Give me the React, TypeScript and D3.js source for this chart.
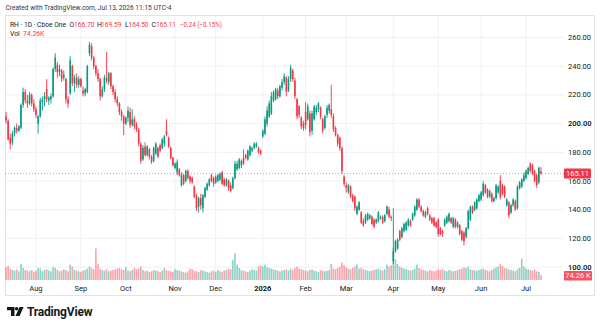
import React from "react";
import * as d3 from "d3";

// [open, high, low, close] per trading day, 2025-07-14 .. 2026-07-13
const ohlc: number[][] = [
  // 0
  [205,208,200,202],[202,203,188,189],[190,193,182,186],[187,195,185,193],[193,198,191,197],
  [197,200,193,195],[195,199,194,198],[197,214,196,213],[213,225,211,222],[222,224,214,216],
  // 10
  [216,220,211,214],[214,222,213,220],[220,221,212,214],[214,217,208,210],[210,212,204,206],
  [200,206,193,205],[205,218,204,216],[215,219,209,217],[217,222,212,219],[224,231,215,217],
  // 20
  [216,219,213,218],[217,221,214,219],[219,239,218,238],[238,249,236,246],[241,243,232,236],
  [236,241,233,238],[237,238,229,231],[232,237,230,234],[231,232,214,217],[217,219,211,214],
  // 30
  [221,247,220,244],[240,241,226,228],[228,234,222,232],[232,235,225,227],[227,233,225,231],
  [231,232,225,226],[223,226,219,221],[221,225,219,224],[222,241,221,240],[249,257,247,255],
  // 40
  [254,256,244,246],[246,247,238,240],[240,241,233,235],[235,238,229,231],[231,232,216,219],
  [219,226,218,224],[224,234,222,232],[232,250,228,230],[229,236,227,235],[235,236,224,226],
  // 50
  [226,227,220,222],[222,224,215,217],[217,219,212,214],[214,215,206,208],[208,210,202,205],
  [205,206,192,200],[200,205,199,204],[204,212,201,209],[208,211,197,199],[199,210,198,203],
  // 60
  [203,205,196,198],[199,201,194,196],[196,197,184,186],[186,187,172,174],[175,185,174,183],
  [184,187,177,178],[178,185,177,184],[182,183,175,177],[177,178,172,173],[174,184,173,183],
  // 70
  [179,187,178,186],[183,184,176,177],[185,186,180,181],[183,190,182,189],[186,192,184,191],
  [195,203,191,192],[190,191,183,184],[183,184,175,176],[176,177,170,171],[169,173,168,172],
  // 80
  [166,175,164,173],[168,169,163,164],[157,166,156,164],[164,165,157,158],[160,168,159,167],
  [167,168,161,162],[163,164,158,160],[162,163,158,159],[156,157,148,149],[150,151,139,141],
  // 90
  [142,149,138,148],[148,151,140,143],[141,151,138,150],[149,156,148,155],[154,159,153,158],
  [157,162,156,161],[164,165,159,160],[162,163,156,158],[159,164,158,163],[160,165,159,164],
  // 100
  [161,166,160,165],[166,167,157,158],[161,162,156,157],[157,162,156,161],[160,161,153,155],
  [157,159,152,153],[155,163,154,162],[162,174,161,172],[168,174,167,172],[169,176,168,175],
  // 110
  [171,175,169,174],[176,182,171,172],[178,179,175,176],[175,182,174,181],[178,185,177,184],
  [181,184,180,183],[183,187,182,186],[184,187,183,186],[183,184,179,180],[181,182,178,179],
  // 120
  [191,196,190,195],[193,205,192,203],[200,212,198,209],[205,216,204,214],[207,222,206,219],
  [216,223,215,222],[217,225,216,224],[223,225,217,219],[219,227,218,226],[225,231,223,229],
  // 130
  [229,235,227,233],[232,233,219,222],[223,233,222,231],[231,241,229,239],[237,238,229,231],
  [230,232,217,219],[217,218,203,205],[212,213,204,206],[204,205,196,198],[200,202,195,197],
  // 140
  [208,215,196,199],[203,214,202,212],[207,209,191,194],[195,209,192,207],[203,213,202,212],
  [208,213,206,211],[210,215,208,214],[211,212,203,205],[203,204,193,195],[197,206,196,205],
  // 150
  [206,213,204,211],[209,214,207,213],[210,227,204,206],[205,207,194,196],[197,198,191,192],
  [192,193,184,186],[190,191,181,183],[183,184,165,167],[163,164,156,158],[157,159,152,155],
  // 160
  [152,158,151,157],[156,157,148,149],[150,151,145,146],[149,150,139,141],[137,143,136,142],
  [140,146,139,145],[138,139,130,131],[132,134,128,129],[131,137,130,136],[133,138,132,137],
  // 170
  [134,137,133,136],[135,136,129,130],[133,134,127,128],[131,134,130,133],[132,139,131,138],
  [134,136,133,135],[135,136,130,131],[132,137,131,136],[137,143,136,142],[140,142,134,135],
  // 180
  [135,136,132,134],[104,141,102,111],[111,119,110,118],[113,120,112,119],[125,126,118,119],
  [121,128,120,127],[125,131,124,130],[126,132,125,131],[129,134,128,133],[132,133,128,129],
  // 190
  [133,138,132,137],[136,143,135,142],[140,148,139,147],[147,148,141,142],[142,143,138,139],
  [139,140,135,136],[135,139,134,138],[141,142,136,137],[136,137,132,133],[134,135,130,131],
  // 200
  [134,135,128,129],[131,132,127,128],[133,134,121,123],[127,128,122,123],[125,126,121,123],
  [129,134,128,133],[131,136,130,135],[132,138,131,137],[134,135,130,131],[128,135,127,134],
  // 210
  [133,134,127,128],[128,132,127,131],[129,130,122,123],[125,126,118,119],[124,125,115,118],
  [121,128,120,127],[127,140,126,139],[133,143,132,142],[142,143,137,138],[140,146,139,145],
  // 220
  [141,148,140,147],[146,151,145,150],[147,153,146,152],[150,160,149,158],[157,158,151,152],
  [154,155,148,149],[149,154,148,153],[151,152,145,146],[146,149,145,148],[148,158,147,157],
  // 230
  [152,157,151,156],[160,164,147,149],[157,158,150,151],[156,157,148,149],[143,148,142,147],
  [145,146,134,136],[138,144,137,143],[143,148,142,147],[146,147,139,140],[141,157,140,156],
  // 240
  [155,160,154,159],[156,162,155,161],[160,166,159,164],[162,168,161,167],[165,170,164,169],
  [172,173,166,167],[171,172,164,165],[167,168,159,160],[164,165,155,157],[159,170,158,169],
  // 250
  [166.70,169.59,164.50,165.11],
];

// volume in thousands
const volumes: number[] = [
  190,210,170,150,140,160,130,240,180,150,
  140,130,150,120,140,180,170,130,150,160,
  140,130,190,180,150,130,140,160,150,130,
  230,200,150,140,130,120,140,150,170,200,
  180,160,470,240,170,150,140,160,130,140,
  150,160,170,180,160,150,190,140,130,150,
  180,160,170,200,150,130,140,120,130,150,
  140,130,120,140,180,150,140,130,120,160,
  150,140,130,120,110,130,170,160,140,130,
  120,150,140,130,120,110,130,140,120,150,
  130,120,140,150,170,160,300,400,230,180,
  150,140,130,120,140,160,150,140,200,220,
  200,230,190,180,170,160,150,140,130,140,
  150,160,140,170,150,180,200,170,160,150,
  140,130,150,160,140,130,120,150,140,130,
  140,150,240,170,160,180,200,260,220,190,
  170,160,180,200,230,170,180,160,150,140,
  130,140,150,160,170,150,140,160,230,200,
  220,480,310,240,200,180,170,160,150,140,
  150,170,230,180,160,150,140,130,150,140,
  130,140,160,150,170,140,130,150,140,130,
  140,150,160,170,190,180,200,160,150,140,
  140,150,160,170,150,140,130,150,170,190,
  200,240,210,180,170,160,150,140,130,160,
  180,320,200,170,160,150,140,160,130,120,
  74.26,
];

const monthStarts = [14, 35, 56, 79, 98, 120, 140, 159, 181, 202, 222, 243];
const monthLabels = ["Aug", "Sep", "Oct", "Nov", "Dec", "2026", "Feb", "Mar", "Apr", "May", "Jun", "Jul"];
const priceTicks = [100, 120, 140, 160, 180, 200, 220, 240, 260];

const UP = "#089981";
const DOWN = "#f23645";
const FONT = "Roboto, 'Noto Sans', sans-serif";

export default function App() {
  const W = 600;
  const H = 328;
  const n = ohlc.length;
  const x = d3.scaleLinear().domain([0, n - 1]).range([6, 541]);
  const y = d3.scaleLinear().domain([100, 260]).range([267, 37.5]);
  const vy = d3.scaleLinear().domain([0, 500]).range([280, 246.5]);
  const fmt = d3.format(".2f");
  const last = ohlc[n - 1];
  const lastY = y(last[3]);
  const plotRight = 564;

  return (
    <svg
      width={W}
      height={H}
      style={{ position: "absolute", left: 0, top: 0, background: "#fff" }}
      fontFamily={FONT}
    >
      <rect x={0} y={0} width={W} height={H} fill="#fff" />
      {/* header */}
      <text x={5.5} y={10} fontSize={7} fill="#333" textLength={166} lengthAdjust="spacingAndGlyphs">
        Created with TradingView.com, Jul 13, 2026 11:15 UTC-4
      </text>

      {/* grid */}
      {priceTicks.map((p) => (
        <line key={"h" + p} x1={5} x2={plotRight} y1={y(p)} y2={y(p)} stroke="#eef0f3" strokeWidth={1} />
      ))}
      {monthStarts.map((m, k) => (
        <line key={"v" + k} x1={x(m)} x2={x(m)} y1={16} y2={281} stroke="#eef0f3" strokeWidth={1} />
      ))}

      {/* chart border */}
      <rect x={5.5} y={15.5} width={589} height={280} fill="none" stroke="#e0e3eb" strokeWidth={1} />

      {/* volume */}
      {volumes.map((v, i) => {
        const d = ohlc[i];
        const up = d[3] >= d[0];
        return (
          <rect
            key={"vol" + i}
            x={x(i) - 0.8}
            width={1.6}
            y={vy(v)}
            height={280 - vy(v)}
            fill={up ? UP : DOWN}
            fillOpacity={0.45}
          />
        );
      })}

      {/* candles */}
      {ohlc.map((d, i) => {
        const [o, h, l, c] = d;
        const up = c >= o;
        const col = up ? UP : DOWN;
        const cx = x(i);
        const top = y(Math.max(o, c));
        const bh = Math.max(0.8, Math.abs(y(o) - y(c)));
        return (
          <g key={"c" + i}>
            <line x1={cx} x2={cx} y1={y(h)} y2={y(l)} stroke={col} strokeWidth={0.9} />
            <rect x={cx - 0.8} width={1.6} y={top} height={bh} fill={col} />
          </g>
        );
      })}

      {/* last price line */}
      <line x1={5} x2={plotRight} y1={lastY} y2={lastY} stroke={DOWN} strokeOpacity={0.7} strokeWidth={0.8} strokeDasharray="1 2" />

      {/* legend */}
      <g fontSize={6.8} fill="#131722">
        <text x={10} y={26.5} textLength={56} lengthAdjust="spacingAndGlyphs">RH · 1D · Cboe One</text>
        <text x={69.5} y={26.5}>O</text>
        <text x={74} y={26.5} fill={DOWN} textLength={20.5} lengthAdjust="spacingAndGlyphs">{fmt(last[0])}</text>
        <text x={97} y={26.5}>H</text>
        <text x={101} y={26.5} fill={DOWN} textLength={20.5} lengthAdjust="spacingAndGlyphs">{fmt(last[1])}</text>
        <text x={125} y={26.5}>L</text>
        <text x={128.5} y={26.5} fill={DOWN} textLength={20} lengthAdjust="spacingAndGlyphs">{fmt(last[2])}</text>
        <text x={151.5} y={26.5}>C</text>
        <text x={156} y={26.5} fill={DOWN} textLength={20} lengthAdjust="spacingAndGlyphs">{fmt(last[3])}</text>
        <text x={180} y={26.5} fill={DOWN} textLength={42} lengthAdjust="spacingAndGlyphs">−0.24 (−0.15%)</text>
        <text x={10} y={35.5}>Vol</text>
        <text x={23} y={35.5} fill={DOWN}>74.26K</text>
      </g>

      {/* price axis */}
      {priceTicks.map((p) => (
        <text
          key={"pl" + p}
          x={568}
          y={y(p) + 2.6}
          fontSize={7.5}
          fill="#131722"
          fontWeight={p === 200 || p === 100 ? 600 : 400}
        >
          {fmt(p)}
        </text>
      ))}
      <rect x={564} y={lastY - 5} width={27} height={10} fill={DOWN} rx={1} />
      <text x={577.5} y={lastY + 2.6} fontSize={7.5} fill="#fff" textAnchor="middle">
        {fmt(last[3])}
      </text>
      <rect x={564} y={271} width={28} height={9.5} fill="#f7525f" rx={1} />
      <text x={578} y={278.4} fontSize={7.5} fill="#fff" textAnchor="middle">
        {d3.format(".2f")(volumes[n - 1])} K
      </text>

      {/* time axis */}
      {monthStarts.map((m, k) => (
        <text
          key={"ml" + k}
          x={x(m)}
          y={290.5}
          fontSize={7.5}
          fill="#131722"
          textAnchor="middle"
          fontWeight={monthLabels[k] === "2026" ? 700 : 400}
        >
          {monthLabels[k]}
        </text>
      ))}

      {/* logo */}
      <g fill="#131722">
        <path d="M7 307 H14.5 V316 H11 V310.3 H7 Z" />
        <circle cx={16.6} cy={308.7} r={1.7} />
        <path d="M19.5 307 H23.6 L19.6 316 H15.5 Z" />
        <text x={27} y={316.3} fontSize={12} fontWeight={700} letterSpacing={-0.2}>
          TradingView
        </text>
      </g>
    </svg>
  );
}
